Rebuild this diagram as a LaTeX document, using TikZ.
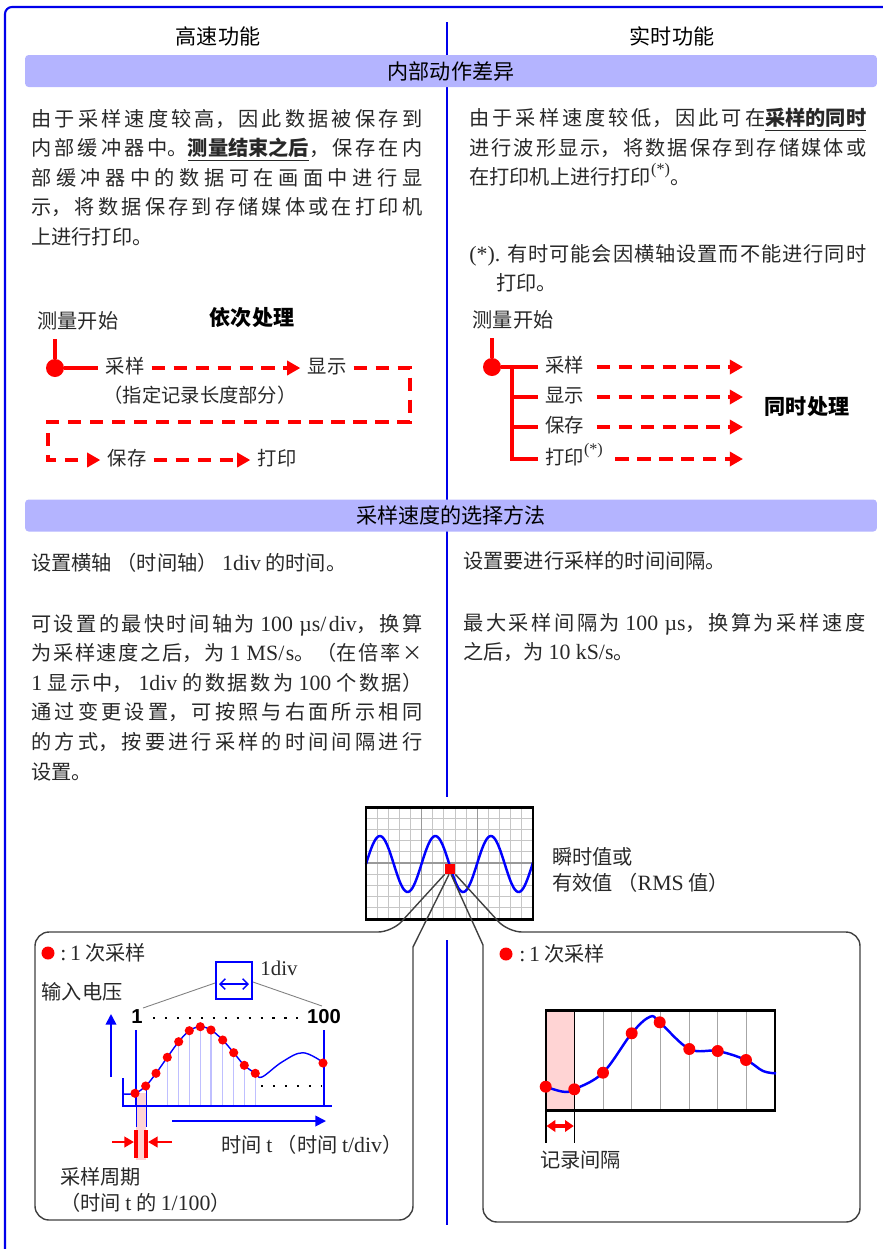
\documentclass[tikz,border=0pt]{standalone}
\usepackage{fontspec}
\setmainfont{Noto Sans CJK SC}
\newfontfamily\tm{Liberation Serif}[Scale=1.08]
\newfontfamily\hv{Liberation Sans}
\usetikzlibrary{arrows.meta,calc}
\XeTeXlinebreaklocale "zh"
\XeTeXlinebreakskip=0pt plus 4pt

\definecolor{lilac}{RGB}{180,180,255}
\definecolor{framblue}{RGB}{0,0,235}
\definecolor{pinkband}{RGB}{255,212,212}
\definecolor{bodygray}{RGB}{40,40,40}

\newcommand\starmark{\raisebox{0.5em}{\fontsize{8.5pt}{9pt}\selectfont\tm(*)}}

\tikzset{
  frameline/.style={framblue, line width=1.2pt},
  head/.style={font=\fontsize{12pt}{14pt}\selectfont},
  bar/.style={head, fill=lilac, rounded corners=2pt, minimum width=17.04cm, minimum height=0.64cm, inner sep=0pt},
  para/.style={anchor=north west, inner sep=0pt, align=justify, text=bodygray,
    font={\fontsize{11.5pt}{16.8pt}\selectfont\tolerance=10000 }},
  flowlabel/.style={font=\fontsize{11pt}{12pt}\selectfont, text=bodygray, inner xsep=0.14cm, inner ysep=0pt,
    text height=0.8em, text depth=0.2em},
  startlabel/.style={flowlabel, font=\fontsize{11.5pt}{13pt}\selectfont},
  boldlabel/.style={font=\fontsize{12pt}{14pt}\selectfont\bfseries},
  redot/.style={circle, fill=red, inner sep=0pt, minimum size=0.36cm},
  flowline/.style={red, line width=2.2pt},
  flowdash/.style={red, line width=2.2pt, dash pattern=on 7.5pt off 5pt, -{Triangle[length=7.5pt,width=8pt]}},
  gridfine/.style={gray!45, line width=0.5pt},
  gridmain/.style={gray!80, line width=0.6pt},
  balloon/.style={draw=black!75, line width=0.8pt},
  chartlabel/.style={font=\fontsize{11.5pt}{13pt}\selectfont, text=bodygray, inner sep=0pt},
  curve/.style={blue, line width=0.8pt},
  axisline/.style={blue, line width=1pt},
  redarrow/.style={red, line width=1.4pt, -{Triangle[length=5.5pt,width=6pt]}},
}

\begin{document}
\begin{tikzpicture}[x=0.02cm,y=-0.02cm]
\useasboundingbox (0,0) rectangle (883,1249);

% frame and divider
\draw[frameline, rounded corners=4pt] (5,1249) -- (5,7) -- (883,7);
\draw[frameline] (447,22) -- (447,797);
\draw[frameline] (447,940) -- (447,1225);

% headings
\node[head] (hsL) at (218,36) {高速功能};
\node[head] (hsR) at (672,36) {实时功能};
\node[bar] (bar1) at (451,71) {内部动作差异};
\node[bar] (bar2) at (451,515.5) {采样速度的选择方法};

% upper texts
\node[para, text width=7.82cm] (txtL1) at (31,109) {由于采样速度较高，因此数据被保存到\linebreak
内部缓冲器中。{\bfseries\underline{测量结束之后}}，保存在内\linebreak
部缓冲器中的数据可在画面中进行显\linebreak
示，将数据保存到存储媒体或在打印机\linebreak
上进行打印。};
\node[para, text width=7.94cm] (txtR1) at (469,108) {由于采样速度较低，因此可在{\bfseries\underline{采样的同时}}\linebreak
进行波形显示，将数据保存到存储媒体或\linebreak
在打印机上进行打印\starmark。};
\node[para, text width=7.94cm] (noteR) at (469,244) {{\tm(*).} 有时可能会因横轴设置而不能进行同时\linebreak
\hspace*{15.5pt}打印。};

% sequential flow
\node[startlabel] (beginL) at (78,323) {测量开始};
\node[boldlabel] (seqL) at (252,318) {依次处理};
\node[redot] (dotL) at (55,368) {};
\node[flowlabel] (sampL) at (125,368) {采样};
\node[flowlabel] (dispL) at (327,368) {显示};
\node[flowlabel] (lenL) at (200,397) {（指定记录长度部分）};
\node[flowlabel] (saveL) at (127,460) {保存};
\node[flowlabel] (printL) at (277,460) {打印};
\coordinate (loopA) at (410,422);
\coordinate (loopB) at (48,460);
\draw[flowline, shorten <=4pt] (beginL.south -| dotL) -- (dotL);
\draw[flowline] (dotL) -- (sampL);
\draw[flowdash] (sampL) -- (dispL);
\draw[flowdash] (dispL) -| (loopA) -| (loopB) -- (saveL);
\draw[flowdash] (saveL) -- (printL);

% simultaneous flow
\node[startlabel] (beginR) at (513,322) {测量开始};
\node[redot] (dotR) at (492,367) {};
\coordinate (trunkR) at (512,367);
\node[flowlabel, anchor=west] (sampR) at (538,367) {采样};
\node[flowlabel, anchor=west] (dispR) at (538,397) {显示};
\node[flowlabel, anchor=west] (saveR) at (538,427) {保存};
\node[flowlabel, anchor=west] (printR) at (538,459) {打印\starmark};
\coordinate (tipR) at (743,367);
\node[boldlabel] (simR) at (807,407) {同时处理};
\draw[flowline, shorten <=4pt] (beginR.south -| dotR) -- (dotR);
\draw[flowline] (dotR) -- (sampR.west);
\draw[flowline] (trunkR) |- (printR.west);
\draw[flowline] (trunkR |- dispR) -- (dispR.west);
\draw[flowline] (trunkR |- saveR) -- (saveR.west);
\foreach \lab in {sampR,dispR,saveR,printR}
  \draw[flowdash, shorten <=3pt] (\lab.east) -- (\lab.east -| tipR);

% lower texts
\node[para, text width=7.82cm] (txtL2) at (31,553) {设置横轴 （时间轴） {\tm 1div} 的时间。};
\node[para, text width=7.82cm] (txtL3) at (31,614) {可设置的最快时间轴为 {\tm 100 µs/div}，换算\linebreak
为采样速度之后，为 {\tm 1 MS/s}。（在倍率×\linebreak
{\tm 1} 显示中， {\tm 1div} 的数据数为 {\tm 100} 个数据）\linebreak
通过变更设置，可按照与右面所示相同\linebreak
的方式，按要进行采样的时间间隔进行\linebreak
设置。};
\node[para, text width=8.04cm] (txtR2) at (463,551) {设置要进行采样的时间间隔。};
\node[para, text width=8.04cm] (txtR3) at (463,613) {最大采样间隔为 {\tm 100 µs}，换算为采样速度\linebreak
之后，为 {\tm 10 kS/s}。};

% scope screen
\foreach \i in {1,...,14}
  \draw[gridfine] ({366+11.13*\i},807) -- ({366+11.13*\i},919);
\foreach \j in {1,...,9}
  \draw[gridfine] (366,{807+11.2*\j}) -- (533,{807+11.2*\j});
\draw[gridmain] (421.7,807) -- (421.7,919);
\draw[gridmain] (477.3,807) -- (477.3,919);
\draw[gridmain] (366,863) -- (533,863);
\draw[blue, line width=1.4pt] plot[domain=0:167, samples=120] ({366+\x}, {864-28*sin(6.4865*\x)});
\draw[black, line width=1.7pt] (366,807) rectangle (533,919);
\node[fill=red, inner sep=0pt, minimum size=0.2cm] (probe) at (450,869) {};
\node[chartlabel, anchor=west] (valA) at (552,857) {瞬时值或};
\node[chartlabel, anchor=west] (valB) at (552,883) {有效值 （{\tm RMS} 值）};

% balloons
\draw[balloon] ($(probe.south)+(-1,0)$) -- (413,947) [rounded corners=8pt] -- (413,1220) -- (35,1220) -- (35,932) -- (392,932) [sharp corners] -- (probe.south west);
\draw[balloon] ($(probe.south)+(1,0)$) -- (483,945) [rounded corners=8pt] -- (483,1222) -- (860,1222) -- (860,932) -- (508,932) [sharp corners] -- (probe.south east);

% left chart
\fill[red] (48,953) circle[radius=3.7pt];
\node[chartlabel, anchor=west] (keyL) at (60,953) {{\tm :\,1} 次采样};
\node[chartlabel] (voltL) at (82,992) {输入电压};
\node[chartlabel, font=\fontsize{11pt}{13pt}\selectfont\tm] (divL) at (279,968) {1div};
\draw[blue, line width=1.2pt] (216,962) rectangle (252,999);
\draw[blue, line width=0.8pt, {Straight Barb[length=3pt]}-{Straight Barb[length=3pt]}] (219,984) -- (249,984);
\draw[gray, line width=0.5pt] (215,983) -- (143,1008);
\draw[gray, line width=0.5pt] (253,982) -- (322,1006);
\node[chartlabel, font=\fontsize{11.5pt}{13pt}\selectfont\hv\bfseries, text=black] (oneL) at (137,1017) {1};
\node[chartlabel, font=\fontsize{11.5pt}{13pt}\selectfont\hv\bfseries, text=black] (hunL) at (324,1017) {100};
\draw[black, line width=1.2pt, dash pattern=on 1.2pt off 5.6pt] (153,1018) -- (298,1018);
\fill[pinkband] (136,1093) rectangle (146,1160);
\foreach \px/\py in {167.3/1057.3, 178.7/1041.7, 189.3/1030.7, 200.3/1026.7, 211/1030, 222.7/1040, 233.7/1052.7, 244.3/1065.3, 255.3/1073.3}
  \draw[blue!25, line width=0.6pt] (\px,\py) -- (\px,1106);
\draw[blue, line width=0.5pt] (136,1106) -- (136,1127);
\draw[blue, line width=0.5pt] (146,1086) -- (146,1127);
\draw[axisline] (123,1078) -- (123,1106) -- (332,1106);
\draw[blue, line width=1.5pt] (136,1030) -- (136,1106);
\draw[blue, line width=1.5pt] (324,1030) -- (324,1106);
\draw[black, line width=1.2pt, dash pattern=on 1.2pt off 5.6pt] (261,1086) -- (322,1086);
\draw[curve] plot[smooth, tension=0.6] coordinates {(124,1094) (135,1093.3) (145.7,1086) (156,1073.3) (167.3,1057.3) (178.7,1041.7) (189.3,1030.7) (200.3,1026.7) (211,1030) (222.7,1040) (233.7,1052.7) (244.3,1065.3) (255.3,1073.3) (262,1077) (282,1062) (303,1052.7) (324,1063)};
\foreach \px/\py in {135/1093.3, 145.7/1086, 156/1073.3, 167.3/1057.3, 178.7/1041.7, 189.3/1030.7, 200.3/1026.7, 211/1030, 222.7/1040, 233.7/1052.7, 244.3/1065.3, 255.3/1073.3, 323/1063}
  \fill[red] (\px,\py) circle[radius=2.6pt];
\draw[axisline, -{Triangle[length=6pt,width=6pt]}] (111,1077) -- (111,1014);
\draw[axisline, -{Triangle[length=6pt,width=6pt]}] (172,1121) -- (326,1121);
\draw[red, line width=1.8pt] (136,1130) -- (136,1158);
\draw[red, line width=1.8pt] (146,1130) -- (146,1158);
\draw[redarrow] (112,1142) -- (134,1142);
\draw[redarrow] (172,1142) -- (148,1142);
\node[chartlabel, anchor=west] (timeL) at (221,1145) {时间 {\tm t} （时间 {\tm t/div}）};
\node[chartlabel, anchor=west] (perL) at (60,1177) {采样周期};
\node[chartlabel, anchor=west] (perN) at (60,1203) {（时间 {\tm t} 的 {\tm 1/100}）};

% right chart
\fill[red] (506,954) circle[radius=3.7pt];
\node[chartlabel, anchor=west] (keyR) at (519,954) {{\tm :\,1} 次采样};
\fill[pinkband] (546,1010) rectangle (574.3,1110);
\foreach \px in {603.3, 631.7, 660.3, 689.3, 717.3, 746}
  \draw[gray!70, line width=0.5pt] (\px,1010) -- (\px,1110);
\draw[black, line width=0.6pt] (574.3,1010) -- (574.3,1143);
\draw[black, line width=0.6pt] (546,1110) -- (546,1143);
\draw[black, line width=1.7pt] (546,1010) rectangle (775,1110);
\draw[blue, line width=1.4pt] plot[smooth, tension=0.6] coordinates {(545.7,1086.7) (563.3,1091.7) (574.3,1089.3) (603,1072.7) (631.7,1033.3) (650,1016.7) (659.7,1022.3) (689.3,1049) (717.7,1051) (746,1060) (763,1071) (776,1073.3)};
\foreach \px/\py in {545.7/1086.7, 574.3/1089.3, 603/1072.7, 631.7/1033.3, 659.7/1022.3, 689.3/1049, 717.7/1051, 746/1060}
  \fill[red] (\px,\py) circle[radius=3.4pt];
\draw[red, line width=2pt, {Triangle[length=5pt,width=6.5pt]}-{Triangle[length=5pt,width=6.5pt]}] (546.5,1126) -- (573.8,1126);
\node[chartlabel, anchor=west] (recR) at (540,1160) {记录间隔};
\end{tikzpicture}
\end{document}
